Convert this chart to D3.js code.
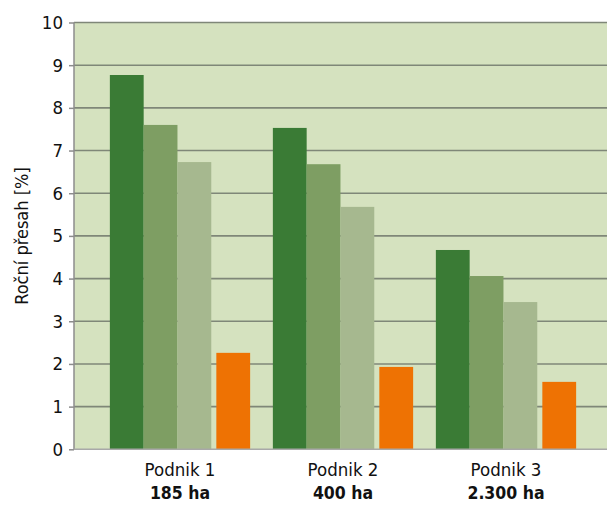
<!DOCTYPE html>
<html><head><meta charset="utf-8">
<script src="https://cdn.jsdelivr.net/npm/d3@7"></script>
<style>body{margin:0;background:#fff}svg{display:block}text{font-family:"DejaVu Sans Condensed","DejaVu Sans",sans-serif}</style>
</head><body><svg id="c" width="607" height="505"></svg>
<script>
const categories = ["Podnik 1", "Podnik 2", "Podnik 3"];
const subLabels = ["185 ha", "400 ha", "2.300 ha"];
const seriesA = [8.77, 7.53, 4.67];
const seriesB = [7.60, 6.68, 4.06];
const seriesC = [6.73, 5.68, 3.45];
const seriesD = [2.26, 1.93, 1.58];
const yTicks = [0,1,2,3,4,5,6,7,8,9,10];
const colors = ["#3a7b35", "#7e9e63", "#a6b88f", "#ee7203"];
const slots = [0, 1, 2, 3.15];

const series = [seriesA, seriesB, seriesC, seriesD];
const svg = d3.select("#c");
const plotL = 74, plotR = 607, plotT = 22.5, plotB = 449.3;
const y = d3.scaleLinear().domain([0, 10]).range([plotB, plotT]);
const x = d3.scaleBand().domain(categories).range([98.5, 587.5]);
const barW = 33.8;
const xs = d3.scaleLinear().domain([0, 1]).range([0, barW]);

svg.append("rect").attr("x", plotL).attr("y", plotT).attr("width", plotR - plotL).attr("height", plotB - plotT).attr("fill", "#d5e2bf");

svg.append("g").selectAll("line").data(yTicks.filter(d => d > 0)).join("line")
  .attr("x1", plotL).attr("x2", plotR).attr("y1", d => y(d)).attr("y2", d => y(d))
  .attr("stroke", "#7f8778").attr("stroke-width", 1.6);

const clusterW = xs(slots[3] + 1);
series.forEach((s, i) => {
  svg.append("g").selectAll("rect").data(s).join("rect")
    .attr("x", (d, j) => x(categories[j]) + x.bandwidth() / 2 - clusterW / 2 + xs(slots[i]))
    .attr("width", barW)
    .attr("y", d => y(d)).attr("height", d => y(0) - y(d))
    .attr("fill", colors[i]);
});

const yAxis = d3.axisLeft(y).tickValues(yTicks).tickSize(5).tickPadding(6).tickFormat(d3.format("d"));
const ga = svg.append("g").attr("transform", `translate(${plotL},0)`).call(yAxis);
ga.select(".domain").attr("stroke", "#8c8c8c").attr("stroke-width", 1.5).attr("d", `M0,${plotT}V${plotB}`);
ga.selectAll(".tick line").attr("stroke", "#8c8c8c").attr("stroke-width", 1.5);
ga.selectAll(".tick text").attr("font-size", 18.5).attr("fill", "#111").attr("font-family", "DejaVu Sans Condensed");

svg.append("line").attr("x1", plotL).attr("x2", plotR).attr("y1", plotB).attr("y2", plotB).attr("stroke", "#a8a8a8").attr("stroke-width", 1.5);

const gx = svg.append("g");
gx.selectAll("text.c").data(categories).join("text").attr("class", "c")
  .attr("x", d => x(d) + x.bandwidth() / 2).attr("y", 476).attr("text-anchor", "middle")
  .attr("font-size", 18.5).attr("fill", "#111").text(d => d);
gx.selectAll("text.s").data(subLabels).join("text").attr("class", "s")
  .attr("x", (d, j) => x(categories[j]) + x.bandwidth() / 2).attr("y", 499).attr("text-anchor", "middle")
  .attr("font-size", 17.5).attr("font-weight", "bold").attr("fill", "#111").text(d => d);

svg.append("text").attr("transform", "translate(28,236) rotate(-90)").attr("text-anchor", "middle")
  .attr("font-size", 18).attr("fill", "#111").text("Roční přesah [%]");
</script></body></html>
